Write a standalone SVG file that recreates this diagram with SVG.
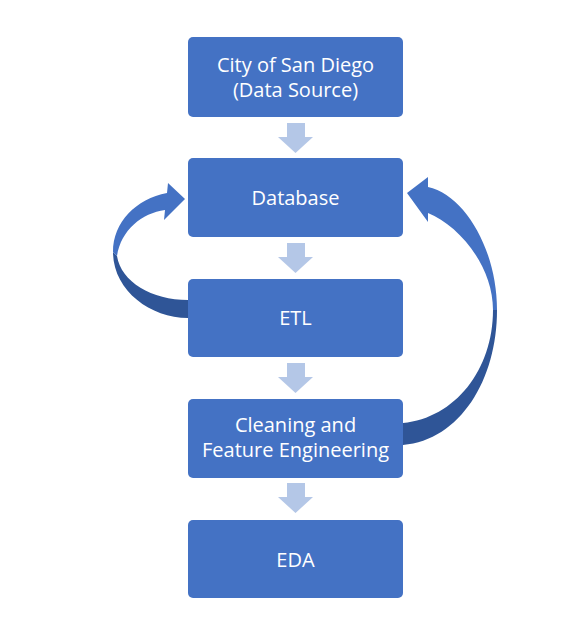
<svg xmlns="http://www.w3.org/2000/svg" width="566" height="642" viewBox="0 0 566 642">
<style>
.box{fill:#4472c4}
.lbl{font-family:"Open Sans","Liberation Sans",sans-serif;font-size:20px;fill:#ffffff;text-anchor:middle}
.step{fill:#b4c7e7}
.front{fill:#4472c4}
.back{fill:#2f5597}
</style>
<defs>
<path id="down" d="M287,0 h18 v14 h8 l-17.5,16 l-17.5,-16 h9 z"/>
</defs>
<rect width="566" height="642" fill="#ffffff"/>
<g id="connectors">
<use href="#down" class="step" transform="translate(0,123)"/>
<use href="#down" class="step" transform="translate(0,243)"/>
<use href="#down" class="step" transform="translate(0,363)"/>
<use href="#down" class="step" transform="translate(0,483)"/>
<g id="loop-left">
<path class="back" d="M113,252 C113,290 150,318 188,318 L188,300 C152,300 121,282 117,256 Z"/>
<path class="front" d="M113,252 C113,222 136,199 167,193 L168,183 L185,199 L164,220 L165,210 C142,213 121,230 117,256 Z"/>
</g>
<g id="loop-right">
<path class="back" d="M497,310 C497,380 460,440 403,445 L403,423 C455,418 493,370 493,310 Z"/>
<path class="front" d="M497,310 C497,250 465,195 428,187 L428,177 L407,193 L428,222 L428,213 C458,225 493,265 493,310 Z"/>
</g>
</g>
<g id="node-source">
<rect class="box" x="188" y="37" width="215" height="80" rx="5"/>
<text class="lbl" x="295.5" y="72">City of San Diego</text>
<text class="lbl" x="295.5" y="97">(Data Source)</text>
</g>
<g id="node-database">
<rect class="box" x="188" y="158" width="215" height="79" rx="5"/>
<text class="lbl" x="295.5" y="205">Database</text>
</g>
<g id="node-etl">
<rect class="box" x="188" y="279" width="215" height="78" rx="5"/>
<text class="lbl" x="295.5" y="325">ETL</text>
</g>
<g id="node-cleaning">
<rect class="box" x="188" y="399" width="215" height="79" rx="5"/>
<text class="lbl" x="295.5" y="432">Cleaning and</text>
<text class="lbl" x="295.5" y="457">Feature Engineering</text>
</g>
<g id="node-eda">
<rect class="box" x="188" y="520" width="215" height="78" rx="5"/>
<text class="lbl" x="295.5" y="567">EDA</text>
</g>
</svg>
